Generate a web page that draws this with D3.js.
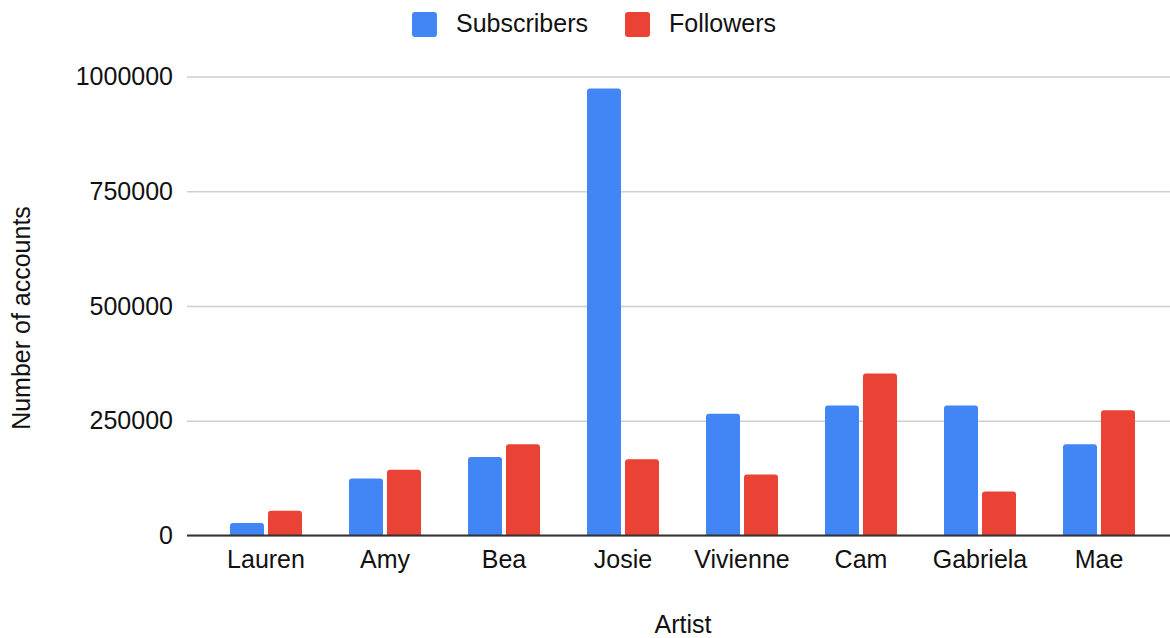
<!DOCTYPE html>
<html>
<head>
<meta charset="utf-8">
<script src="https://cdn.jsdelivr.net/npm/d3@7"></script>
<style>
  html, body { margin: 0; padding: 0; background: #fff; }
  svg { display: block; font-family: "Liberation Sans", Arial, Helvetica, sans-serif; }
</style>
</head>
<body>
<svg id="chart" width="1170" height="638"></svg>
<script>
// Accounts per artist
const artists = ["Lauren", "Amy", "Bea", "Josie", "Vivienne", "Cam", "Gabriela", "Mae"];
const subscribers = [27000, 124000, 171000, 974000, 265000, 283000, 283000, 199000];
const followers = [54000, 143000, 199000, 166000, 133000, 353000, 96000, 273000];
const seriesNames = ["Subscribers", "Followers"];
const seriesColors = ["#4285F4", "#EA4335"];
const yTicks = [0, 250000, 500000, 750000, 1000000];

const svg = d3.select("#chart");
const plotLeft = 187, plotRight = 1170;
const fontSize = 25;

const y = d3.scaleLinear().domain([0, 1000000]).range([535.5, 76.5]);
const x = d3.scaleBand().domain(artists).range([206.5, 1158.5]).padding(0);
const groupWidth = 72;
const xs = d3.scaleBand().domain(seriesNames).range([0, groupWidth]).paddingInner(0.105);

// Gridlines and y tick labels
const yAxis = d3.axisLeft(y).tickValues(yTicks).tickSize(-(plotRight - plotLeft)).tickPadding(14).tickFormat(d3.format("d"));
const gy = svg.append("g").attr("transform", `translate(${plotLeft},0)`).call(yAxis);
gy.select(".domain").remove();
gy.selectAll(".tick line").attr("stroke", "#cfcfcf").attr("stroke-width", 1.5);
gy.selectAll(".tick text").attr("font-size", fontSize).attr("fill", "#111")
  .attr("font-family", "Liberation Sans, Arial, sans-serif");

// Bars with rounded top corners
function barPath(x0, w, yTop, yBase, r) {
  r = Math.min(r, (yBase - yTop), w / 2);
  return `M${x0},${yBase}V${yTop + r}Q${x0},${yTop} ${x0 + r},${yTop}H${x0 + w - r}Q${x0 + w},${yTop} ${x0 + w},${yTop + r}V${yBase}Z`;
}

const rows = artists.map((a, i) => ({ artist: a, values: [subscribers[i], followers[i]] }));
const groups = svg.append("g").selectAll("g").data(rows).join("g")
  .attr("transform", d => `translate(${x(d.artist) + (x.bandwidth() - groupWidth) / 2},0)`);
groups.selectAll("path").data(d => d.values.map((v, k) => ({ v, k }))).join("path")
  .attr("d", d => barPath(xs(seriesNames[d.k]), xs.bandwidth(), y(d.v), y(0), 3))
  .attr("fill", d => seriesColors[d.k]);

// Baseline
svg.append("line").attr("x1", plotLeft).attr("x2", plotRight)
  .attr("y1", y(0)).attr("y2", y(0)).attr("stroke", "#333").attr("stroke-width", 2);

// X axis labels
const xAxis = d3.axisBottom(x).tickSize(0).tickPadding(14);
const gx = svg.append("g").attr("transform", `translate(0,${y(0) + 1})`).call(xAxis);
gx.select(".domain").remove();
gx.selectAll(".tick text").attr("font-size", fontSize).attr("fill", "#111")
  .attr("font-family", "Liberation Sans, Arial, sans-serif");

// Axis titles
svg.append("text").attr("x", 683).attr("y", 633).attr("text-anchor", "middle")
  .attr("font-size", fontSize).attr("fill", "#111").text("Artist");
svg.append("text").attr("transform", "translate(30,318) rotate(-90)").attr("text-anchor", "middle")
  .attr("font-size", fontSize).attr("fill", "#111").text("Number of accounts");

// Legend
const legendItems = [{ name: "Subscribers", x: 412 }, { name: "Followers", x: 625 }];
const lg = svg.append("g").selectAll("g").data(legendItems).join("g")
  .attr("transform", d => `translate(${d.x},12)`);
lg.append("rect").attr("width", 25).attr("height", 25).attr("rx", 3)
  .attr("fill", (d, i) => seriesColors[i]);
lg.append("text").attr("x", 44).attr("y", 20).attr("font-size", fontSize).attr("fill", "#111")
  .text(d => d.name);
</script>
</body>
</html>
